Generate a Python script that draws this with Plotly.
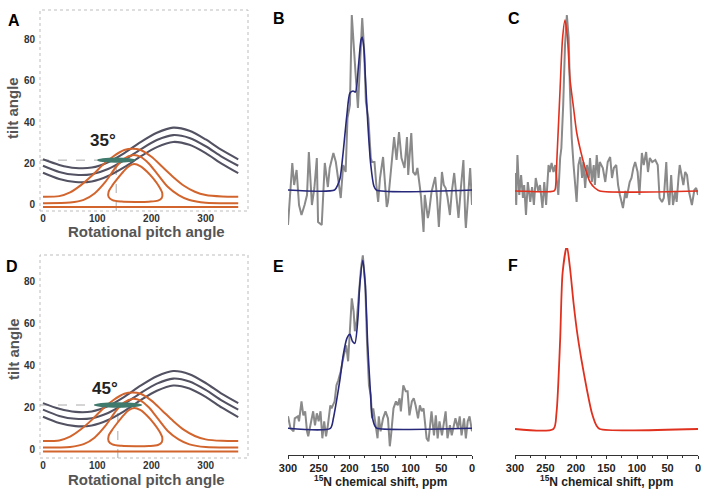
import plotly.graph_objects as go

W, H = 709, 491

# ---------------- data: panels A / D (tilt vs rotational pitch) ----------------
pitch = [0, 30, 60, 90, 120, 150, 180, 210, 240, 270, 300, 330, 360]
dark_top = [22.0, 19.3, 17.8, 18.0, 20.6, 25.0, 30.3, 34.8, 37.3, 35.8, 31.6, 26.4, 22.0]
dark_mid = [18.9, 15.9, 14.5, 14.8, 17.3, 21.6, 26.8, 31.3, 33.7, 32.3, 28.3, 23.2, 18.9]
dark_low = [15.5, 12.5, 11.0, 11.3, 13.9, 18.2, 23.4, 27.9, 30.4, 29.0, 25.0, 19.8, 15.3]

orange_outer_x = [0, 30, 50, 70, 90, 110, 130, 150, 165, 180, 200, 220, 240, 260, 280, 300, 330, 360]
orange_outer_y = [3.9, 4.2, 6.0, 9.5, 14.0, 19.2, 23.5, 26.5, 27.1, 26.5, 23.2, 18.4, 13.5, 9.2, 6.3, 4.7, 4.0, 3.9]
orange_inner_x = [0, 50, 75, 95, 115, 135, 150, 165, 180, 195, 210, 230, 250, 270, 300, 360]
orange_inner_y = [0.8, 1.1, 2.4, 5.5, 11.1, 18.4, 22.4, 24.0, 23.2, 20.0, 15.2, 8.7, 4.7, 2.3, 1.0, 0.8]
orange_flat_x = [0, 360]
orange_flat_y = [-1.1, -1.1]
loop_x = [168, 180, 192, 204, 214, 220, 219, 212, 195, 170, 145, 128, 121, 121, 127, 137, 148, 158, 168]
loop_y = [19.7, 18.6, 16.0, 12.5, 8.8, 5.5, 3.3, 2.0, 1.5, 1.4, 1.6, 2.3, 3.8, 6.3, 9.0, 12.5, 16.0, 18.6, 19.7]

fit_pitch = [135, 138]          # best-fit rotational pitch (A, D)
fit_tilt = [21.6, 21.1]         # best-fit tilt (A, D)
fit_pitch_lo = [100, 94]
fit_pitch_hi = [170, 183]
fit_tilt_halfwidth = [1.3, 1.3]
angle_labels = ["35°", "45°"]
pitch_ticks = [0, 100, 200, 300]
tilt_ticks = [0, 20, 40, 60, 80]

# ---------------- data: spectra ----------------
B_gray_ppm = [300, 293, 290, 286, 282, 278, 273, 269, 266, 261, 257, 253, 251, 245, 240, 235, 232, 226, 222,
              218, 214, 210, 206, 203, 199, 196, 192, 190, 186, 183, 179, 176, 173, 169, 165, 163, 159, 156,
              153, 150, 145, 139, 137, 131, 127, 123, 119, 115, 110, 106, 104, 99, 96, 92, 89, 85, 83, 79, 77,
              72, 70, 66, 60, 57, 54, 49, 46, 43, 40, 36, 33, 29, 25, 22, 18, 14, 11, 10, 5, 3, 0]
B_gray_int = [-35, 27, 5, 20, -15, -25, -15, -5, 38, -15, 2, 32, -32, -35, 27, 3, 22, 37, 28,
              8, -8, 25, 18, 72, 85, 175, 142, 118, 82, 118, 172, 142, 88, 72, 32, 28, 28, 5,
              -12, 12, 33, -17, -12, 27, 53, 30, 58, 32, 22, 53, 15, 57, 18, 15, 22, 3, -8, -42, -5,
              -28, -22, -2, 13, -8, -37, 18, 5, 2, -7, -25, -2, 17, -5, -28, 3, 30, -28, -38, 5, 22, -15]
B_fit_ppm = [300, 224, 219, 215, 210, 204, 199, 194, 190, 185, 181, 179, 176, 174, 170, 165, 160, 156, 0]
B_fit_int = [0, 0, 5, 12, 38, 75, 97, 99, 98, 125, 150, 153, 140, 115, 68, 25, 4, 0, 0]

C_gray_ppm = [300, 298, 296, 293, 290, 287, 285, 282, 279, 275, 272, 269, 266, 262, 259, 255, 252, 249, 245,
              243, 240, 237, 234, 231, 229, 226, 224, 221, 218, 215, 212, 210, 207, 204, 201, 199, 196, 193,
              190, 188, 185, 182, 179, 177, 174, 171, 169, 166, 163, 161, 156, 152, 148, 144, 141, 138, 134,
              131, 128, 123, 119, 117, 112, 109, 106, 103, 99, 96, 92, 89, 85, 82, 79, 75, 70, 66, 63, 59, 56,
              52, 50, 47, 44, 41, 37, 35, 32, 30, 27, 24, 21, 18, 15, 10, 6, 3, 0]
C_gray_int = [18, -14, 36, -4, 16, -7, 6, -24, 9, -11, 4, -14, 13, 0, 6, -17, 9, -14, 26,
              19, 28, 19, 26, 6, -4, 33, 43, 86, 146, 176, 153, 103, 53, 26, 0, -11, 26, 34,
              13, 29, 3, 26, 13, 33, 9, 26, 6, 36, 13, 29, 23, 9, 29, 34, 13, 23, 26,
              6, -4, -17, 0, -7, 9, 13, 23, 29, 19, -4, 38, 26, 39, 19, 33, 29, 31, 26, -7, -11, -7,
              29, 0, -14, 16, -14, 0, -11, 13, 26, 16, 6, 19, 16, 0, -14, 1, 3, -4]
C_fit_ppm = [300, 236, 234, 231, 226, 222, 218, 214, 210, 204, 199, 192, 185, 177, 169, 161, 0]
C_fit_int = [0, 0, 2, 36, 103, 153, 171, 153, 113, 83, 59, 39, 23, 9, 3, 0, 0]

E_gray_ppm = [300, 296, 291, 289, 284, 282, 278, 275, 272, 269, 267, 263, 259, 256, 253, 250, 247, 244, 241,
              238, 235, 231, 229, 224, 221, 218, 214, 210, 207, 205, 202, 199, 196, 193, 191, 188, 184, 181,
              178, 174, 171, 168, 165, 163, 161, 157, 154, 152, 149, 145, 141, 137, 134, 132, 128, 124, 121,
              118, 116, 112, 108, 105, 102, 98, 95, 92, 88, 85, 82, 79, 76, 74, 71, 68, 66, 62, 59, 56, 53,
              49, 46, 43, 40, 36, 33, 30, 27, 23, 20, 17, 13, 10, 7, 4, 0]
E_gray_int = [12, 0, -3, 10, 12, 7, 27, 13, 17, -3, -8, 3, 17, 3, 15, 7, 17, -10, 7,
              -8, 3, 23, 20, 27, 43, 48, 57, 70, 77, 83, 67, 100, 130, 117, 97, 107, 140, 160,
              173, 143, 83, 43, 33, 10, 20, 3, -10, 12, -3, 10, 17, 10, -18, -7, 20, 27, 23,
              30, 17, 43, 37, 37, 13, 27, 30, 23, 10, 23, 17, 20, -3, -10, -13, 3, 17, -7, 13, -10, 7,
              -7, 3, 17, -10, 3, -7, 3, 10, 0, 12, -7, 10, -10, 7, 12, -3]
E_fit_ppm = [300, 231, 226, 221, 215, 210, 204, 199, 195, 191, 186, 183, 178, 174, 170, 166, 163, 158, 155, 0]
E_fit_int = [0, 0, 10, 27, 50, 73, 90, 94, 87, 85, 110, 143, 168, 143, 83, 40, 13, 2, 0, 0]

F_fit_ppm = [300, 237, 232, 226, 222, 215, 210, 204, 198, 191, 182, 174, 166, 161, 0]
F_fit_int = [0, 0, 16, 89, 156, 183, 162, 126, 96, 69, 39, 16, 3, 0, 0]

ppm_ticks = [300, 250, 200, 150, 100, 50, 0]

# ---------------- colours / styles ----------------
GRAY = "#8a8a8a"
NAVY = "#27287a"
RED = "#e0311f"
ORANGE = "#d2652e"
DARK = "#525263"
TEAL = "#3f7a6c"
FONT = "Liberation Sans, Arial, sans-serif"


def fx(p):
    return p / W


def fy(p):
    return 1 - p / H


fig = go.Figure()


def line(x, y, ax, color, width, shape="spline", smoothing=0.8):
    fig.add_trace(go.Scatter(x=x, y=y, mode="lines", xaxis="x" + ax, yaxis="y" + ax,
                             line=dict(color=color, width=width, shape=shape, smoothing=smoothing),
                             hoverinfo="skip", showlegend=False))


# panels A (ax '') and D (ax '4')
for ax in ["", "4"]:
    for arr in [dark_top, dark_mid, dark_low]:
        line(pitch, arr, ax, DARK, 2.1)
    line(orange_outer_x, orange_outer_y, ax, ORANGE, 2)
    line(orange_inner_x, orange_inner_y, ax, ORANGE, 2)
    line(orange_flat_x, orange_flat_y, ax, ORANGE, 2, shape="linear")
    line(loop_x, loop_y, ax, ORANGE, 2, smoothing=0.9)

# spectra
line(B_gray_ppm, B_gray_int, "2", GRAY, 2, shape="linear")
line(B_fit_ppm, B_fit_int, "2", NAVY, 1.6, smoothing=0.7)
line(C_gray_ppm, C_gray_int, "3", GRAY, 2, shape="linear")
line(C_fit_ppm, C_fit_int, "3", RED, 1.6, smoothing=0.7)
line(E_gray_ppm, E_gray_int, "5", GRAY, 2, shape="linear")
line(E_fit_ppm, E_fit_int, "5", NAVY, 1.6, smoothing=0.7)
line(F_fit_ppm, F_fit_int, "6", RED, 1.8, smoothing=0.7)

TICKFONT = dict(family=FONT, size=10, color="#333333")

layout = dict(
    width=W, height=H, autosize=False, margin=dict(l=0, r=0, t=0, b=0, pad=0, autoexpand=False),
    paper_bgcolor="white", plot_bgcolor="white", showlegend=False,
)

pitch_box = (40, 248)
A_box = (10, 211)
D_box = (255, 458)

for ax, box, yr in [("", A_box, [-3.0, 94.2]), ("4", D_box, [-4.2, 92.7])]:
    layout["xaxis" + ax] = dict(domain=[fx(pitch_box[0]), fx(pitch_box[1])], anchor="y" + ax,
                                range=[-5.5, 378], tickvals=pitch_ticks,
                                ticktext=["<b>%d</b>" % v for v in pitch_ticks],
                                showgrid=False, zeroline=False, showline=False, ticks="",
                                tickfont=TICKFONT, automargin=False)
    layout["yaxis" + ax] = dict(domain=[fy(box[1]), fy(box[0])], anchor="x" + ax,
                                range=yr, tickvals=tilt_ticks,
                                ticktext=["<b>%d</b>" % v for v in tilt_ticks],
                                showgrid=False, zeroline=False, showline=False, ticks="",
                                tickfont=TICKFONT, automargin=False, ticklabelstandoff=4)

spec_x = {"2": (288, 472), "3": (515, 698), "5": (288, 472), "6": (515, 698)}
spec_y = {"2": ((8, 235), 190), "3": ((8, 235), 191), "5": ((248, 455), 428.3), "6": ((248, 455), 429)}
for ax in ["2", "3", "5", "6"]:
    (top, bot), base = spec_y[ax]
    show = ax in ("5", "6")
    xa = dict(domain=[fx(spec_x[ax][0]), fx(spec_x[ax][1])], anchor="y" + ax,
              range=[300, 0], showgrid=False, zeroline=False, automargin=False)
    if show:
        xa.update(showline=True, linecolor="#333333", linewidth=1,
                  ticks="outside", ticklen=3, tickcolor="#333333",
                  tickvals=ppm_ticks, ticktext=["<b>%d</b>" % v for v in ppm_ticks],
                  minor=dict(ticks="outside", ticklen=2, tickvals=[275, 225, 175, 125, 75, 25],
                             tickcolor="#333333"),
                  tickfont=dict(family=FONT, size=11, color="#222222"))
    else:
        xa.update(visible=False)
    layout["xaxis" + ax] = xa
    layout["yaxis" + ax] = dict(domain=[fy(bot), fy(top)], anchor="x" + ax,
                                range=[base - bot, base - top], visible=False,
                                showgrid=False, zeroline=False, automargin=False)

fig.update_layout(**layout)

shapes = []
annotations = []


def note(text, x, y, font, xref="paper", yref="paper", angle=0):
    annotations.append(dict(text=text, xref=xref, yref=yref, x=x, y=y, showarrow=False,
                            xanchor="center", yanchor="middle", textangle=angle, font=font))


label_lift = [9.5, 8.0]
for i, (ax, yr_bottom) in enumerate([("", -3.0), ("4", -4.2)]):
    xr, yrf = "x" + ax, "y" + ax
    shapes.append(dict(type="rect", xref=xr + " domain", yref=yrf + " domain", x0=0, x1=1, y0=0, y1=1,
                       line=dict(color="#bdbdbd", width=1, dash="dot"), layer="below"))
    shapes.append(dict(type="line", xref=xr, yref=yrf, x0=-5.5, x1=fit_pitch[i], y0=fit_tilt[i], y1=fit_tilt[i],
                       line=dict(color="#aaaaaa", width=1, dash="dash"), layer="below"))
    shapes.append(dict(type="line", xref=xr, yref=yrf, x0=fit_pitch[i], x1=fit_pitch[i], y0=yr_bottom, y1=fit_tilt[i],
                       line=dict(color="#aaaaaa", width=1, dash="dash"), layer="below"))
    shapes.append(dict(type="circle", xref=xr, yref=yrf, x0=fit_pitch_lo[i], x1=fit_pitch_hi[i],
                       y0=fit_tilt[i] - fit_tilt_halfwidth[i], y1=fit_tilt[i] + fit_tilt_halfwidth[i],
                       fillcolor=TEAL, line=dict(width=0)))
    note("<b>%s</b>" % angle_labels[i], fit_pitch[i] - 24, fit_tilt[i] + label_lift[i],
         dict(family=FONT, size=17, color="#222222"), xref=xr, yref=yrf)

AXTITLE = dict(family=FONT, size=15, color="#555555")
for cx, cy in [(146, 232), (146, 479)]:
    note("<b>Rotational pitch angle</b>", fx(cx), fy(cy), AXTITLE)
for cx, cy in [(13, 108), (13, 349)]:
    note("<b>tilt angle</b>", fx(cx), fy(cy), AXTITLE, angle=-90)
for cx, cy in [(380, 481), (606, 481)]:
    note("<b><sup>15</sup>N chemical shift, ppm</b>", fx(cx), fy(cy),
         dict(family=FONT, size=12, color="#222222"))

for lab, cx, cy in [("A", 13.5, 20.5), ("B", 279, 19), ("C", 514, 18.5),
                    ("D", 12, 266), ("E", 278.5, 266), ("F", 513, 265.5)]:
    note("<b>%s</b>" % lab, fx(cx), fy(cy), dict(family=FONT, size=16, color="#000000"))

fig.update_layout(shapes=shapes, annotations=annotations)
fig.write_html("out.html", config={"responsive": False, "displayModeBar": False},
               post_script="document.body.style.margin='0';document.body.style.padding='0';")
